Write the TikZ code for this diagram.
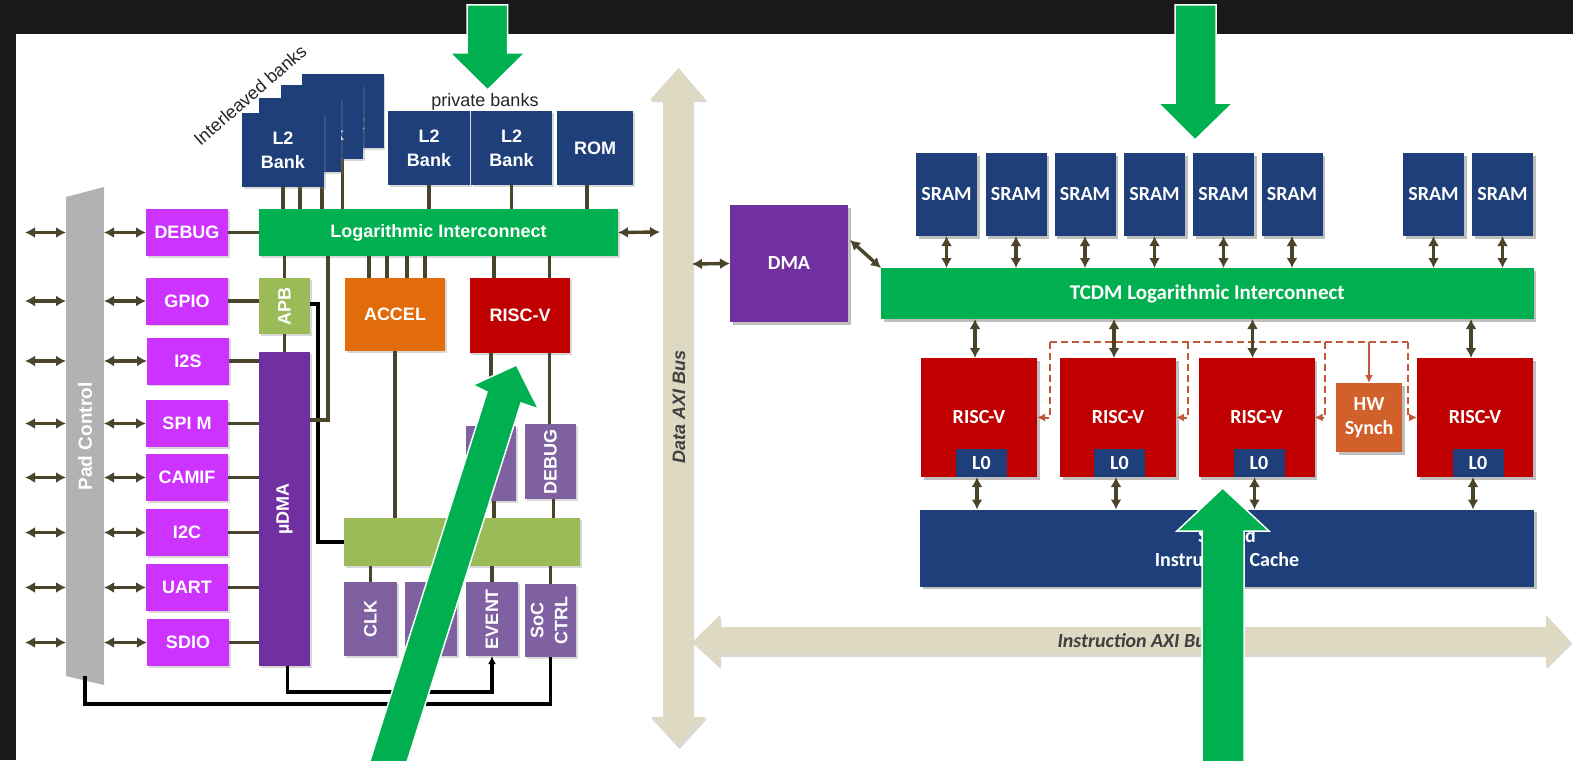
\documentclass[tikz,border=0pt]{standalone}
\usepackage{fontspec}
\usepackage{tikz}
\usetikzlibrary{arrows.meta,shadows}
\setmainfont{Liberation Sans}
\newfontfamily\carlito{Carlito}
\definecolor{bankblue}{HTML}{1F3F7A}
\definecolor{icgreen}{HTML}{00B050}
\definecolor{pinkbox}{HTML}{CC33FF}
\definecolor{dmapurple}{HTML}{7030A0}
\definecolor{lightgreen}{HTML}{9BBB59}
\definecolor{mutedpurple}{HTML}{7F60A0}
\definecolor{corered}{HTML}{C00000}
\definecolor{accelorange}{HTML}{E36C0A}
\definecolor{busgrey}{HTML}{DDD9C3}
\definecolor{padgrey}{HTML}{B2B2B2}
\definecolor{linkdark}{HTML}{4A452A}
\definecolor{syncred}{HTML}{C0583A}
\definecolor{hworange}{HTML}{D2602B}
\newcommand{\leftfont}{\fontsize{18}{24}\selectfont\bfseries}
\newcommand{\rightfont}{\carlito\fontsize{20}{24}\selectfont\bfseries}

\begin{document}
\begin{tikzpicture}[x=1pt,y=-1pt,
    wh/.style 2 args={minimum width=#1pt,minimum height=#2pt},
    block/.style={rectangle,inner sep=0pt,outer sep=0pt,text=white,align=center,font=\leftfont,
        drop shadow={shadow xshift=1.5pt,shadow yshift=-1.5pt,opacity=.3}},
    rblock/.style={rectangle,inner sep=0pt,outer sep=0pt,text=white,align=center,font=\rightfont,
        drop shadow={shadow xshift=2.5pt,shadow yshift=-2.5pt,opacity=.5}},
    link/.style={draw=linkdark,line width=3.4pt},
    dbl/.style={link,{Latex[length=10pt,width=11pt]}-{Latex[length=10pt,width=11pt]}},
    heavy/.style={draw=black,line width=3.5pt},
    syncline/.style={draw=syncred,line width=2pt,dash pattern=on 7pt off 4pt},
    synctip/.style={-{Latex[length=8pt,width=8pt]}},
    busarrow/.style={fill=busgrey,drop shadow={shadow xshift=1pt,shadow yshift=-2pt,opacity=.3}},
    bigarrow/.style={fill=icgreen,draw=white,line width=1.5pt,line join=miter}]

    % Page
    \fill[black!90] (0,0) rectangle (1573,760);
    \fill[white] (16,34) rectangle (1573,760);
    \useasboundingbox (0,0) rectangle (1573,760);

    % Buses
    \path[busarrow] (678.6,68) -- (706,100) -- (693,100) -- (693,717) -- (706,717) -- (678.6,747)
        -- (651,717) -- (663,717) -- (663,100) -- (650,100) -- cycle;
    \path[busarrow] (692.5,642) -- (720,615) -- (720,627) -- (1546,627) -- (1546,615) -- (1571,642)
        -- (1546,667) -- (1546,655) -- (720,655) -- (720,667) -- cycle;
    \node[rotate=90,font=\fontsize{18}{22}\selectfont\bfseries\itshape,text=black!75] (databus) at (679,407) {Data AXI Bus};
    \node[anchor=west,font=\carlito\fontsize{20}{24}\selectfont\bfseries\itshape,text=black!75] (instrbus) at (1054,641) {Instruction AXI Bus};

    % Left cluster, interconnect
    \node[block,fill=icgreen,wh={359}{47}] (log) at (438.5,232.5) {Logarithmic Interconnect};

    % Interleaved banks, back to front
    \foreach \i/\x/\y/\t in {4/342.5/111/{L2\\Bank}, 3/322/122/{L2\\Bank}, 2/300/135/{}, 1/283/150/{L2\\Bank}} {
        \node[block,fill=bankblue,wh={82}{74}] (bank\i) at (\x,\y) {\t};
        \draw[link] (bank\i.south) -- (bank\i.south |- log.north);
    }
    \node[rotate=41,font=\fontsize{18}{22}\selectfont,text=black!85] (interleaved) at (250,95) {Interleaved banks};

    % Private banks
    \node[font=\fontsize{18}{22}\selectfont,text=black!85] (private) at (485,102) {private banks};
    \node[block,fill=bankblue,wh={82}{74}] (priv1) at (429,148) {L2\\Bank};
    \node[block,fill=bankblue,wh={81}{74}] (priv2) at (511.5,148) {L2\\Bank};
    \node[block,fill=bankblue,wh={76}{74}] (rom) at (595,148) {ROM};
    \draw[link] (priv1.south) -- (priv1.south |- log.north);
    \draw[link] (priv2.south) -- (priv2.south |- log.north);
    \draw[link] ([xshift=-8pt]rom.south) -- ([xshift=-8pt]rom.south |- log.north);

    % Pad control
    \node[fill=padgrey,inner sep=0pt,outer sep=0pt,wh={38}{479},text=white,font=\fontsize{19}{22}\selectfont\bfseries] (pad) at (85,436.5) {\rotatebox{90}{Pad Control}};
    \fill[padgrey] (pad.north west) -- (pad.north east) -- ([yshift=10pt]pad.north east) -- cycle;
    \fill[padgrey] (pad.south west) -- (pad.south east) -- ([yshift=-9pt]pad.south east) -- cycle;

    % Peripherals
    \node[block,fill=lightgreen,wh={51}{56}] (apb) at (284.5,306) {\rotatebox{90}{APB}};
    \node[block,fill=dmapurple,wh={51}{314}] (udma) at (284.5,509) {\rotatebox{90}{µDMA}};
    \foreach \n/\t/\x/\y in {debug/DEBUG/187/232.5, gpio/GPIO/187/301, i2s/I2S/188/361, spi/SPI M/187/423.5,
        cam/CAMIF/187/477.5, i2c/I2C/187/532.5, uart/UART/187/587.5, sdio/SDIO/188/642.5} {
        \node[block,fill=pinkbox,wh={82}{47}] (\n) at (\x,\y) {\t};
        \coordinate (out\n) at (25,\y);
        \draw[dbl] (pad.east |- \n) -- (\n.west);
        \draw[dbl] (pad.west |- \n) -- (out\n);
    }
    \foreach \n/\m in {debug/log, gpio/apb, i2s/udma, spi/udma, cam/udma, i2c/udma, uart/udma, sdio/udma} {
        \draw[link] (\n.east) -- (\n.east -| \m.west);
    }
    \draw[link] (apb.north) -- (apb.north |- log.south);
    \draw[link] (apb.south) -- (udma.north);

    % Accelerator and core
    \node[block,fill=accelorange,wh={100}{73}] (accel) at (395,314.5) {ACCEL};
    \node[block,fill=corered,wh={100.5}{75}] (core) at (520,315.5) {RISC-V};
    \foreach \d in {-26,-8,12,30} {
        \draw[link] ([xshift=\d pt]accel.north) -- ([xshift=\d pt]accel.north |- log.south);
    }
    \foreach \d in {-26,29.5} {
        \draw[link] ([xshift=\d pt]core.north) -- ([xshift=\d pt]core.north |- log.south);
    }

    % Peripheral bus and its slaves
    \node[block,fill=lightgreen,wh={236}{48}] (pbus) at (462,542) {};
    \node[block,fill=mutedpurple,wh={50}{75}] (hidden) at (491,463.5) {};
    \node[block,fill=mutedpurple,wh={51}{75}] (dbg) at (550.5,461.5) {\rotatebox{90}{DEBUG}};
    \node[block,fill=mutedpurple,wh={53}{74}] (clk) at (370.5,619) {\rotatebox{90}{CLK}};
    \node[block,fill=mutedpurple,wh={52}{74}] (timer) at (431,619) {};
    \node[block,fill=mutedpurple,wh={52}{74}] (event) at (492,619) {\rotatebox{90}{EVENT}};
    \node[block,fill=mutedpurple,wh={51}{73}] (socctrl) at (550.5,620.5) {\rotatebox{90}{\begin{tabular}{@{}c@{}}SoC\\CTRL\end{tabular}}};
    \draw[link] (accel.south) -- (accel.south |- pbus.north);
    \draw[link] (core.south -| hidden) -- (hidden.north);
    \draw[link] ([xshift=-1pt]core.south -| dbg) -- ([xshift=-1pt]dbg.north);
    \draw[link] ([xshift=3pt]hidden.south) -- ([xshift=3pt]hidden.south |- pbus.north);
    \draw[link] ([xshift=3pt]dbg.south) -- ([xshift=3pt]dbg.south |- pbus.north);
    \foreach \n in {clk,event,socctrl} {
        \draw[link] (\n.north) -- (\n.north |- pbus.south);
    }

    % Control wiring
    \coordinate (apbout) at (318,304);
    \coordinate (dmain) at (328,420);
    \coordinate (evrail) at (0,692);
    \coordinate (padrail) at (0,704);
    \draw[heavy] (apb.east |- apbout) -- (apbout) |- (pbus.west);
    \draw[link] (dmain |- log.south) -- (dmain) -- (dmain -| udma.east);
    \draw[heavy,-{Latex[length=8pt,width=8pt]}] ([xshift=3pt]udma.south) |- (evrail -| event) -- (event.south);
    \draw[heavy] (pad.south) |- (padrail -| socctrl) -- (socctrl.south);

    % Cluster, interconnect and memories
    \node[rblock,fill=icgreen,wh={652.5}{51},font=\carlito\fontsize{21}{24}\selectfont\bfseries] (tcdm) at (1207.25,293.5) {TCDM Logarithmic Interconnect};
    \node[rblock,fill=dmapurple,wh={118}{117}] (dma) at (789,263.5) {DMA};
    \coordinate (dbusr) at (692,264);
    \coordinate (dbusl) at (660,232);
    \coordinate (dmaout) at (850,240);
    \draw[dbl] (dbusr) -- (dma.west);
    \draw[dbl] (log.east) -- (dbusl);
    \draw[dbl] (dmaout) -- (tcdm.north west);
    \foreach \i/\x in {1/946.5, 2/1016, 3/1085, 4/1154.5, 5/1223.5, 6/1292, 7/1433.5, 8/1502.5} {
        \node[rblock,fill=bankblue,wh={61}{83}] (sram\i) at (\x,194.5) {SRAM};
        \draw[dbl] (sram\i.south) -- (sram\i.south |- tcdm.north);
    }

    % Cores
    \node[rblock,fill=bankblue,wh={614}{77}] (icache) at (1227,548) {Shared\\Instruction Cache};
    \foreach \i/\x/\lx in {1/979/981.5, 2/1118/1119.5, 3/1256.5/1259, 4/1475/1478} {
        \node[rblock,fill=corered,wh={116}{119}] (risc\i) at (\x,417.5) {RISC-V};
        \node[rectangle,inner sep=0pt,outer sep=0pt,text=white,font=\rightfont,fill=bankblue,wh={51}{28}] (lzero\i) at (\lx,463) {L0};
        \draw[dbl] ([xshift=-2pt]risc\i.south) -- ([xshift=-2pt]risc\i.south |- icache.north);
    }
    \node[rblock,fill=hworange,wh={66}{69}] (hw) at (1369,417.5) {HW\\Synch};

    % Event lines to the cores
    \coordinate (sync1) at (1050,342);
    \coordinate (sync2) at (1188,342);
    \coordinate (sync3) at (1325,342);
    \coordinate (sync4) at (1408,342);
    \draw[syncline] (sync1) -- (sync4);
    \draw[syncline,synctip] (sync1) -- (sync1 |- risc1.east) -- (risc1.east);
    \draw[syncline,synctip] (sync2) -- (sync2 |- risc2.east) -- (risc2.east);
    \draw[syncline,synctip] (sync3) -- (sync3 |- risc3.east) -- (risc3.east);
    \draw[syncline,synctip] (sync4) -- (sync4 |- risc4.west) -- (risc4.west);
    \draw[draw=syncred,line width=2pt,synctip] (hw.north |- sync1) -- (hw.north);

    \foreach \i in {1,2,3,4} {
        \draw[dbl] ([xshift=-4pt]risc\i.north) -- ([xshift=-4pt]risc\i.north |- tcdm.south);
    }

    % Highlight arrows
    \draw[bigarrow] (467,5) -- (507.5,5) -- (507.5,53) -- (525,53) -- (487.5,90) -- (450,53) -- (467,53) -- cycle;
    \draw[bigarrow] (1175,5) -- (1216,5) -- (1216,103) -- (1233,103) -- (1195,140) -- (1158,103) -- (1175,103) -- cycle;
    \draw[bigarrow] (1202,762) -- (1202,531) -- (1177,531) -- (1222.7,488) -- (1269,531) -- (1244,531) -- (1244,762) -- cycle;
    \draw[bigarrow] (369.6,762) -- (487,392) -- (473,385) -- (516.5,365) -- (538.6,409) -- (521,403) -- (407,762) -- cycle;
\end{tikzpicture}
\end{document}
